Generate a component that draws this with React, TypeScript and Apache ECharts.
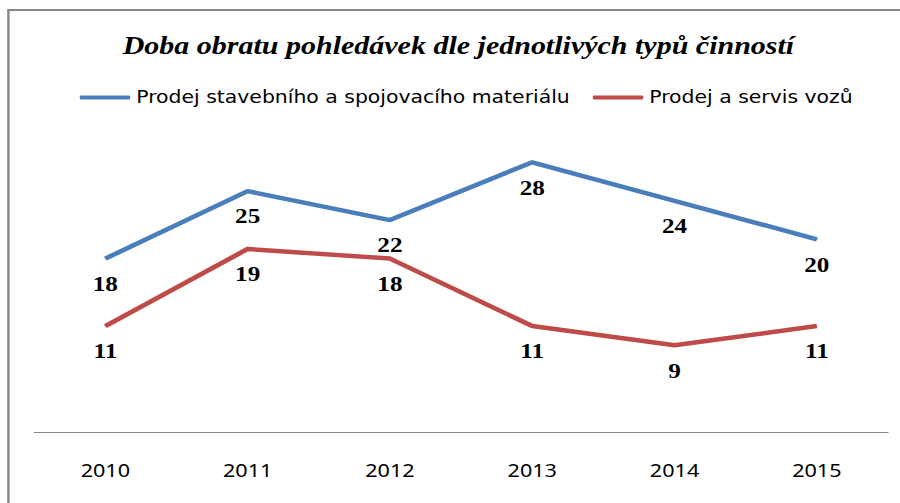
import React, { useEffect, useRef } from "react";
import * as echarts from "echarts";

const years = ["2010", "2011", "2012", "2013", "2014", "2015"];
const stavebni = [18, 25, 22, 28, 24, 20];
const vozy = [11, 19, 18, 11, 9, 11];
const seriesNames = ["Prodej stavebního a spojovacího materiálu", "Prodej a servis vozů"];
const titleText = "Doba obratu pohledávek dle jednotlivých typů činností";

// The reference image is horizontally stretched by ~1.2, so the chart is drawn
// 750px wide and scaled to 900px with a CSS transform.
const STRETCH = 1.2;
const BASE_W = 900 / STRETCH;

export default function App() {
  const ref = useRef<HTMLDivElement>(null);
  useEffect(() => {
    if (!ref.current) return;
    const chart = echarts.init(ref.current, null, { renderer: "svg" });
    const labelStyle = {
      show: true,
      position: "bottom",
      distance: 14,
      fontFamily: "Liberation Serif",
      fontWeight: "bold",
      fontSize: 21,
      color: "#000",
    };
    chart.setOption({
      animation: false,
      backgroundColor: "#fff",
      title: {
        text: titleText,
        left: 377,
        top: 28,
        textAlign: "center",
        textStyle: {
          fontFamily: "Liberation Serif",
          fontWeight: "bold",
          fontStyle: "italic",
          fontSize: 25,
          color: "#000",
        },
      },
      legend: {
        left: 66.5,
        top: 89,
        padding: 0,
        icon: "roundRect",
        itemWidth: 42,
        itemHeight: 4,
        itemGap: 19,
        textStyle: { fontFamily: "DejaVu Sans", fontSize: 17, color: "#000" },
        data: seriesNames,
      },
      graphic: [
        {
          type: "rect",
          shape: { x: 7, y: 10, width: 1200, height: 1200 },
          style: { fill: "none", stroke: "#868686", lineWidth: 2 },
          silent: true,
        },
      ],
      grid: { left: 28.5, right: 10, top: 143, bottom: 71 },
      xAxis: {
        type: "category",
        data: years,
        boundaryGap: true,
        axisLine: { lineStyle: { color: "#868686", width: 1 } },
        axisTick: { show: false },
        axisLabel: { margin: 29, fontFamily: "Noto Sans", fontSize: 18, color: "#000" },
      },
      yAxis: {
        type: "value",
        min: 0,
        max: 30,
        show: false,
        splitLine: { show: false },
      },
      series: [
        {
          name: seriesNames[0],
          type: "line",
          data: stavebni,
          symbol: "circle",
          symbolSize: 1,
          showSymbol: true,
          color: "#4A7EBB",
          lineStyle: { width: 4.5, color: "#4A7EBB" },
          label: labelStyle,
        },
        {
          name: seriesNames[1],
          type: "line",
          data: vozy,
          symbol: "circle",
          symbolSize: 1,
          showSymbol: true,
          color: "#BE4B48",
          lineStyle: { width: 4.5, color: "#BE4B48" },
          label: labelStyle,
        },
      ],
    });
    return () => chart.dispose();
  }, []);
  return (
    <div
      style={{ position: "fixed", left: 0, top: 0, width: 900, height: 503, overflow: "hidden" }}
    >
      <div
        ref={ref}
        style={{
          width: BASE_W,
          height: 503,
          transform: `scaleX(${STRETCH})`,
          transformOrigin: "0 0",
        }}
      />
    </div>
  );
}
